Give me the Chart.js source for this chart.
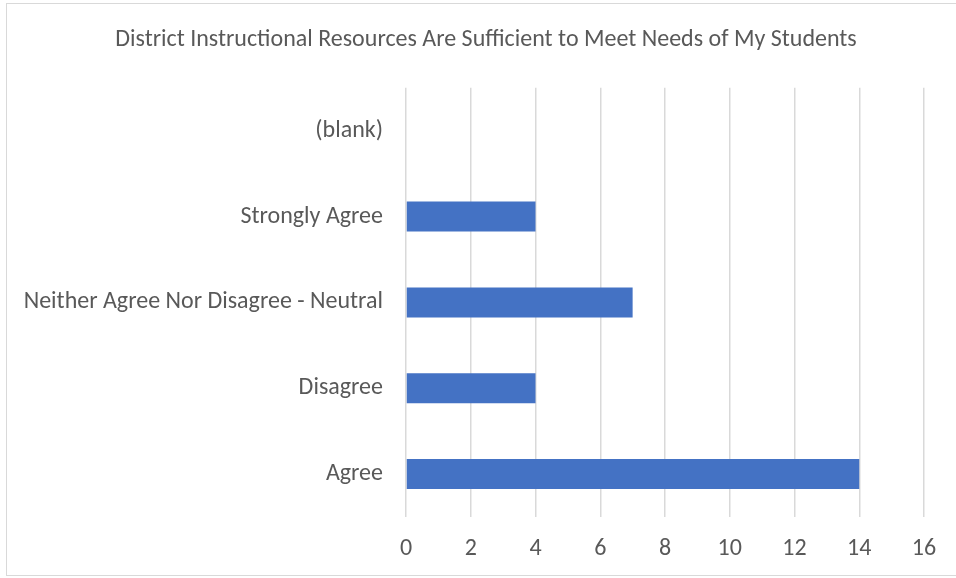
<!DOCTYPE html>
<html>
<head>
<meta charset="utf-8">
<script src="https://cdn.jsdelivr.net/npm/chart.js@4"></script>
<style>
  html, body { margin: 0; padding: 0; background: #fff; overflow: hidden; }
  #box { position: absolute; left: 6px; top: 3px; width: 958px; height: 571px; border: 1px solid #d9d9d9; }
</style>
</head>
<body>
<div id="box"><canvas id="myChart" width="958" height="571"></canvas></div>
<script>
const categories = ['(blank)', 'Strongly Agree', 'Neither Agree Nor Disagree - Neutral', 'Disagree', 'Agree'];
const counts = [null, 4, 7, 4, 14];
const tickMax = 16;
const tickStep = 2;

const fontFamily = 'Carlito, "Open Sans", sans-serif';
const textColor = '#595959';

const ctx = document.getElementById('myChart');

new Chart(ctx.getContext('2d'), {
  type: 'bar',
  data: {
    labels: categories,
    datasets: [{
      label: 'Count',
      data: counts,
      backgroundColor: '#4472C4',
      categoryPercentage: 1,
      barPercentage: 0.35
    }]
  },
  options: {
    indexAxis: 'y',
    responsive: false,
    animation: false,
    plugins: {
      legend: { display: false },
      tooltip: { enabled: false },
      title: {
        display: true,
        text: 'District Instructional Resources Are Sufficient to Meet Needs of My Students',
        color: textColor,
        font: { family: fontFamily, size: 24, weight: 'normal' },
        padding: { top: 22, bottom: 33 }
      }
    },
    scales: {
      x: {
        min: 0,
        max: tickMax,
        ticks: {
          stepSize: tickStep,
          color: textColor,
          padding: 18,
          font: { family: fontFamily, size: 24 }
        },
        grid: { color: '#d9d9d9', lineWidth: 1.5, drawTicks: false },
        border: { display: false },
        afterFit: function (scale) { scale.height = 58; }
      },
      y: {
        ticks: {
          color: textColor,
          padding: 23,
          font: { family: fontFamily, size: 24 }
        },
        grid: { display: false, drawTicks: false },
        border: { display: false },
        afterFit: function (scale) { scale.width = 399; }
      },
      // empty right-hand axis, only to leave room right of the plot
      yRight: {
        position: 'right',
        ticks: { display: false },
        grid: { display: false, drawTicks: false },
        border: { display: false },
        afterFit: function (scale) { scale.width = 41; }
      }
    }
  }
});
</script>
</body>
</html>
